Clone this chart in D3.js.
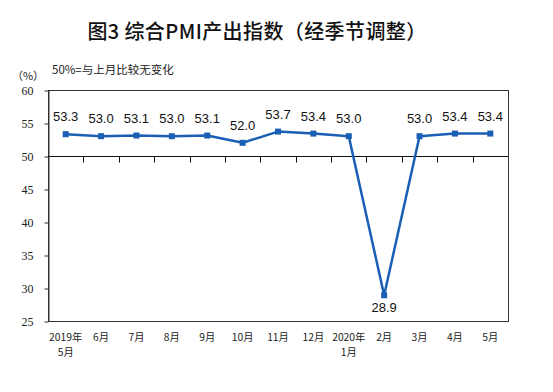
<!DOCTYPE html>
<html><head><meta charset="utf-8">
<script src="https://cdn.jsdelivr.net/npm/d3@7"></script>
<style>
html,body{margin:0;padding:0;background:#fff;}
svg{display:block;}
</style></head>
<body>
<svg id="chart" width="553" height="392"></svg>
<script>
const categories = ["2019年\n5月","6月","7月","8月","9月","10月","11月","12月","2020年\n1月","2月","3月","4月","5月"];
const values = [53.3,53.0,53.1,53.0,53.1,52.0,53.7,53.4,53.0,28.9,53.0,53.4,53.4];
const yTicks = [25,30,35,40,45,50,55,60];
const title = "图3 综合PMI产出指数（经季节调整）";
const unitLabel = "（%）";
const noteLabel = "50%=与上月比较无变化";
const baseline = 50;

const svg = d3.select("#chart");
const L = 48, R = 508, T = 90, B = 321;
const x = d3.scaleBand().domain(categories).range([L, R]).padding(0);
const y = d3.scaleLinear().domain([25, 60]).range([B, T]);
const blue = "#1a5fb4";
const cjk = "'Noto Sans CJK SC', sans-serif";

// title
svg.append("text").attr("x", 257).attr("y", 39).attr("text-anchor", "middle")
  .attr("font-family", cjk).attr("font-size", 20).attr("font-weight", 500).attr("fill", "#111")
  .attr("letter-spacing", 0.4)
  .text(title);

svg.append("text").attr("x", 28).attr("y", 80).attr("text-anchor", "middle")
  .attr("font-family", cjk).attr("font-size", 11).attr("fill", "#222").text(unitLabel);
svg.append("text").attr("x", 52).attr("y", 74)
  .attr("font-family", cjk).attr("font-size", 11.5).attr("fill", "#222").text(noteLabel);

// plot box
svg.append("rect").attr("x", L + 0.5).attr("y", T + 0.5).attr("width", R - L).attr("height", B - T)
  .attr("fill", "none").attr("stroke", "#333").attr("stroke-width", 1);

// y axis
const yAxis = svg.append("g").attr("transform", `translate(${L + 0.5},0.5)`)
  .call(d3.axisLeft(y).tickValues(yTicks).tickSize(4).tickSizeOuter(0).tickPadding(11).tickFormat(d3.format("d")));
yAxis.select(".domain").attr("stroke", "#333");
yAxis.selectAll(".tick line").attr("stroke", "#333");
yAxis.selectAll("text").attr("font-family", "'Liberation Serif', serif").attr("font-size", 12).attr("fill", "#222");

// baseline axis at 50
const y50 = Math.round(y(baseline)) + 0.5;
svg.append("line").attr("x1", L).attr("x2", R).attr("y1", y50).attr("y2", y50)
  .attr("stroke", "#111").attr("stroke-width", 1);
svg.selectAll(".xtick").data(categories.slice(1)).enter().append("line")
  .attr("x1", d => Math.round(x(d)) + 0.5).attr("x2", d => Math.round(x(d)) + 0.5)
  .attr("y1", y50).attr("y2", y50 + 6).attr("stroke", "#111");

// category labels (one text per line)
categories.forEach(d => {
  d.split("\n").forEach((p, i) => {
    svg.append("text").attr("x", x(d) + x.bandwidth() / 2).attr("y", 341 + i * 15)
      .attr("text-anchor", "middle").attr("font-family", cjk).attr("font-size", 10.3).attr("fill", "#222")
      .text(p);
  });
});

// line
const line = d3.line().x((d, i) => x(categories[i]) + x.bandwidth() / 2).y(d => y(d));
svg.append("path").datum(values).attr("d", line).attr("fill", "none")
  .attr("stroke", blue).attr("stroke-width", 2.5).attr("stroke-linejoin", "round");

svg.selectAll(".pt").data(values).enter().append("rect")
  .attr("x", (d, i) => x(categories[i]) + x.bandwidth() / 2 - 3)
  .attr("y", d => y(d) - 3).attr("width", 6).attr("height", 6).attr("fill", blue);

// value labels
svg.selectAll(".vl").data(values).enter().append("text")
  .attr("x", (d, i) => x(categories[i]) + x.bandwidth() / 2)
  .attr("y", d => d < baseline ? y(d) + 17 : y(d) - 13)
  .attr("text-anchor", "middle").attr("font-family", "'Liberation Sans', Arial, sans-serif")
  .attr("font-size", 13).attr("fill", "#111")
  .text(d => d.toFixed(1));
</script>
</body></html>
